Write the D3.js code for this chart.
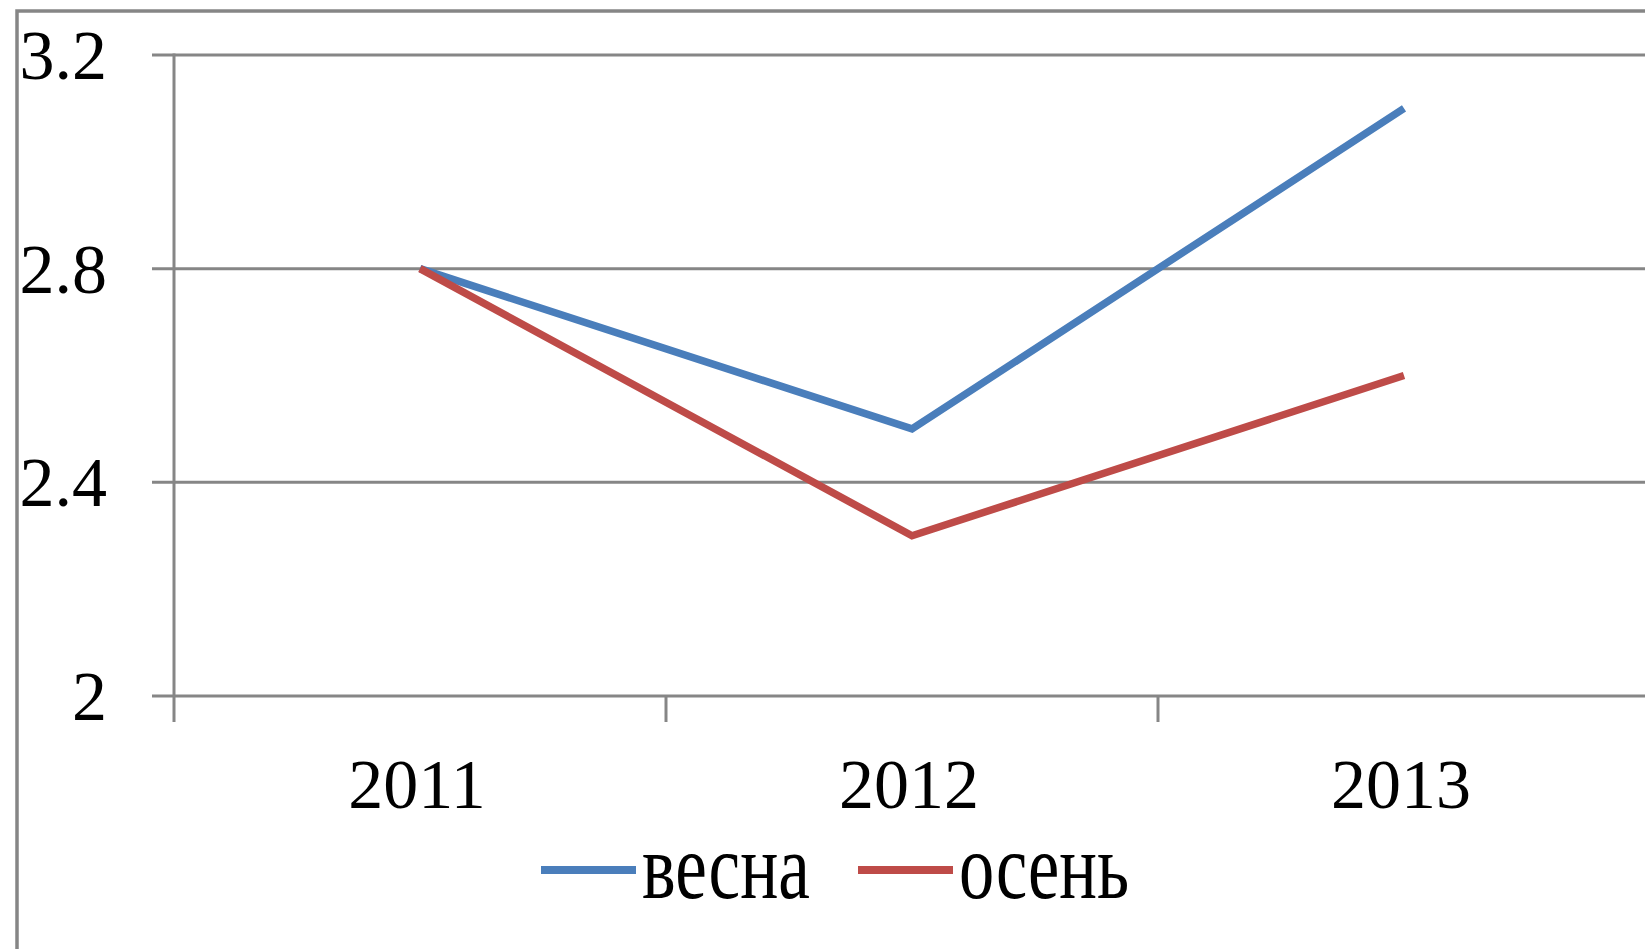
<html>
<head>
    <meta charset="UTF-8">
    <title>весна / осень</title>
    <script src="https://cdnjs.cloudflare.com/ajax/libs/d3/7.8.5/d3.min.js"></script>
    <style>
        body { margin: 0; background: #fff; }
        text { font-family: "Liberation Serif", "Times New Roman", serif; fill: #000; }
    </style>
</head>
<body>
<script>
    var years = ["2011", "2012", "2013"];
    var spring = [2.8, 2.5, 3.1];   // весна
    var autumn = [2.8, 2.3, 2.6];   // осень
    var yTicks = [2, 2.4, 2.8, 3.2];
    var yTickLabels = ["2", "2.4", "2.8", "3.2"];
    var seriesNames = ["весна", "осень"];

    var width = 1645, height = 949;
    var gridColor = "#868686";
    var colors = ["#4a7ebb", "#be4b48"];

    var svg = d3.select("body").append("svg")
        .attr("width", width)
        .attr("height", height);

    // chart area border (cut off on the right and bottom)
    svg.append("rect")
        .attr("x", 17).attr("y", 11)
        .attr("width", width + 50).attr("height", height + 50)
        .attr("fill", "none")
        .attr("stroke", gridColor)
        .attr("stroke-width", 3.5);

    var xScale = d3.scaleBand()
        .domain(years)
        .range([174, 1650])
        .padding(0);

    var yScale = d3.scaleLinear()
        .domain([2, 3.2])
        .range([696, 55]);

    var cx = function (d) { return xScale(d) + xScale.bandwidth() / 2; };

    // horizontal gridlines
    svg.selectAll(".grid")
        .data(yTicks)
        .enter().append("line")
        .attr("x1", 152).attr("x2", width)
        .attr("y1", function (d) { return yScale(d); })
        .attr("y2", function (d) { return yScale(d); })
        .attr("stroke", gridColor)
        .attr("stroke-width", 3);

    // y axis line
    svg.append("line")
        .attr("x1", 174).attr("x2", 174)
        .attr("y1", yScale(3.2) - 1.5).attr("y2", 722)
        .attr("stroke", gridColor)
        .attr("stroke-width", 3);

    // x tick marks between categories
    svg.selectAll(".xtick")
        .data(years.slice(1))
        .enter().append("line")
        .attr("x1", function (d) { return xScale(d); })
        .attr("x2", function (d) { return xScale(d); })
        .attr("y1", yScale(2)).attr("y2", 722)
        .attr("stroke", gridColor)
        .attr("stroke-width", 3);

    // y labels
    svg.selectAll(".ylab")
        .data(yTicks)
        .enter().append("text")
        .attr("x", 107)
        .attr("y", function (d) { return yScale(d) + 24; })
        .attr("text-anchor", "end")
        .attr("font-size", 70)
        .text(function (d, i) { return yTickLabels[i]; });

    // x labels
    svg.selectAll(".xlab")
        .data(years)
        .enter().append("text")
        .attr("x", function (d) { return cx(d) - 3; })
        .attr("y", 808)
        .attr("text-anchor", "middle")
        .attr("font-size", 70)
        .text(function (d) { return d; });

    var line = d3.line()
        .x(function (d, i) { return cx(years[i]); })
        .y(function (d) { return yScale(d); });

    [spring, autumn].forEach(function (s, i) {
        svg.append("path")
            .datum(s)
            .attr("d", line)
            .attr("fill", "none")
            .attr("stroke", colors[i])
            .attr("stroke-width", 7.5)
            .attr("stroke-linejoin", "miter");
    });

    // legend
    var legend = [
        {x: 541, w: 168},
        {x: 858, w: 170}
    ];
    seriesNames.forEach(function (name, i) {
        var g = svg.append("g").attr("transform", "translate(" + legend[i].x + ",870)");
        g.append("line")
            .attr("x1", 0).attr("x2", 95)
            .attr("y1", 0).attr("y2", 0)
            .attr("stroke", colors[i])
            .attr("stroke-width", 8);
        g.append("text")
            .attr("x", 101).attr("y", 28)
            .attr("font-size", 94)
            .attr("textLength", legend[i].w)
            .attr("lengthAdjust", "spacingAndGlyphs")
            .text(name);
    });
</script>
</body>
</html>
